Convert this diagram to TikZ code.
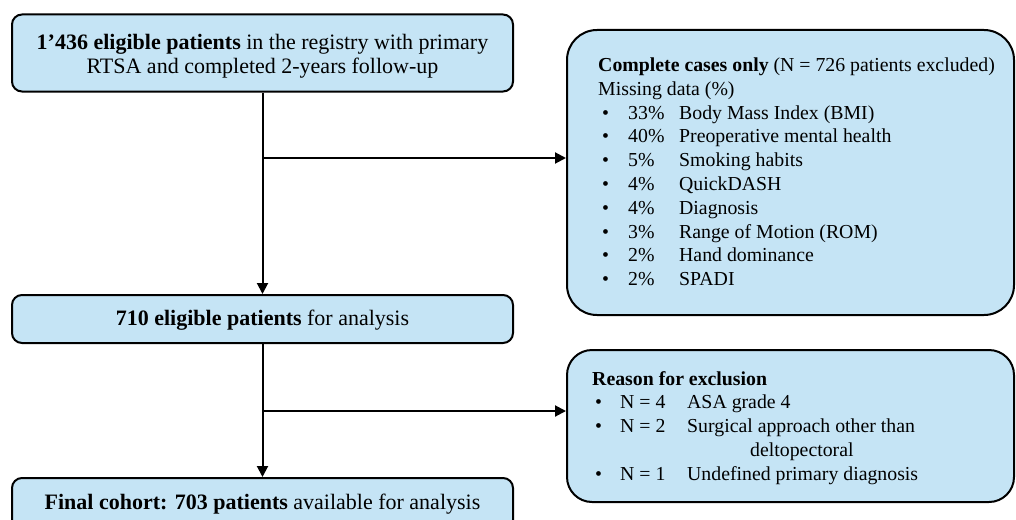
\documentclass[tikz,border=0pt]{standalone}
\usepackage{fontspec}
\setmainfont{Liberation Serif}
\usetikzlibrary{arrows.meta}
\definecolor{boxblue}{RGB}{197,228,245}
\newcommand\li[2]{\hspace{4pt}\makebox[26pt][l]{•}\makebox[51pt][l]{#1}#2}
\newcommand\lii[2]{\hspace{3pt}\makebox[25pt][l]{•}\makebox[67pt][l]{#1}#2}
\tikzset{
  box/.style={draw=black, line width=2pt, fill=boxblue, rounded corners=10pt, inner sep=0pt},
  txt/.style={font=\fontsize{19.8}{23.8}\selectfont, inner sep=0pt},
  bigtxt/.style={font=\fontsize{22}{24.5}\selectfont, inner sep=0pt},
  arr/.style={line width=2pt, -{Triangle[length=11pt,width=11pt]}}
}
\begin{document}
\begin{tikzpicture}[x=1pt,y=-1pt]
\clip (0,0) rectangle (1016,519);
\fill[white] (0,0) rectangle (1016,519);
% boxes
\node[box, minimum width=501pt, minimum height=77pt] (b1) at (262.5,53) {};
\node[box, minimum width=501pt, minimum height=48pt] (b3) at (262.5,319) {};
\node[box, minimum width=501pt, minimum height=52pt] (b4) at (262.5,504) {};
\node[box, rounded corners=30pt, minimum width=447pt, minimum height=285pt] (b2) at (790.5,172.5) {};
\node[box, rounded corners=25pt, minimum width=447pt, minimum height=152pt] (b5) at (790.5,426) {};
% texts
\node[bigtxt, align=center] (t1) at (262.5,56) {\textbf{1’436 eligible patients} in the registry with primary\\RTSA and completed 2-years follow-up};
\node[bigtxt] (t3) at (262.5,320) {\textbf{710 eligible patients} for analysis};
\node[bigtxt] (t4) at (262.5,504) {\textbf{Final cohort: 703 patients} available for analysis};
\node[txt, align=left, anchor=north west] (t2) at (598,57.5) {\textbf{Complete cases only} (N = 726 patients excluded)\\
Missing data (\%)\\
\li{33\%}{Body Mass Index (BMI)}\\
\li{40\%}{Preoperative mental health}\\
\li{5\%}{Smoking habits}\\
\li{4\%}{QuickDASH}\\
\li{4\%}{Diagnosis}\\
\li{3\%}{Range of Motion (ROM)}\\
\li{2\%}{Hand dominance}\\
\li{2\%}{SPADI}};
\node[txt, align=left, anchor=north west] (t5) at (592,371) {\textbf{Reason for exclusion}\\
\lii{N = 4}{ASA grade 4}\\
\lii{N = 2}{Surgical approach other than}\\
\hspace{158pt}deltopectoral\\
\lii{N = 1}{Undefined primary diagnosis}};
% connectors
\coordinate (j1) at (262.5,158);
\coordinate (j2) at (262.5,411);
\draw[arr] (b1.south) -- (b3.north);
\draw[arr] (j1) -- (j1 -| b2.west);
\draw[arr] (b3.south) -- (b4.north);
\draw[arr] (j2) -- (j2 -| b5.west);
\end{tikzpicture}
\end{document}
